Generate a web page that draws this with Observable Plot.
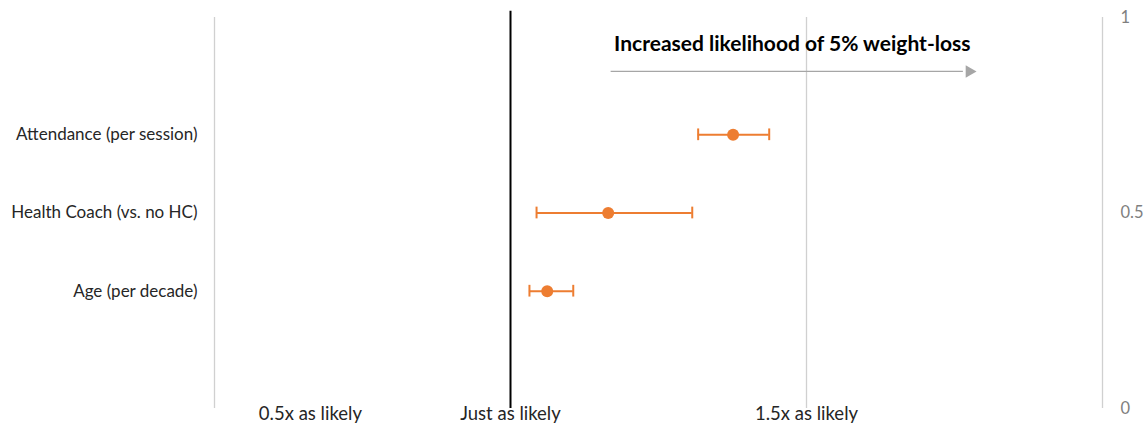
<!DOCTYPE html>
<html>
<head>
<meta charset="utf-8">
<script src="https://cdn.jsdelivr.net/npm/d3@7"></script>
<script src="https://cdn.jsdelivr.net/npm/@observablehq/plot@0.6"></script>
<style>
  html, body { margin: 0; padding: 0; background: #fff; }
  #chart svg { display: block; font-family: Lato, "Open Sans", sans-serif; }
</style>
</head>
<body>
<div id="chart"></div>
<script>
// Categories and odds ratios (with 95% CI)
const categories = ["Attendance (per session)", "Health Coach (vs. no HC)", "Age (per decade)"];
const rowPos = [0.7, 0.5, 0.3];
const estimate = [1.376, 1.165, 1.062];
const ciLow = [1.317, 1.044, 1.032];
const ciHigh = [1.437, 1.307, 1.106];

// Reference lines
const grayLines = [0.5, 1.5, 2.0];
const nullLine = [1.0];

// Bottom labels
const bottomLabels = ["0.5x as likely", "Just as likely", "1.5x as likely"];
const bottomPos = [0.662, 1.0, 1.5];

// Right axis ticks
const rightTicks = [0, 0.5, 1];

// Annotation
const arrowTitle = "Increased likelihood of 5% weight-loss";
const arrowStart = 1.17, arrowEnd = 1.775, arrowY = 0.862;
const titleX = 1.476, titleY = 0.931;

const rows = categories.map((c, i) => ({
  label: c, y: rowPos[i], est: estimate[i], lo: ciLow[i], hi: ciHigh[i]
}));

const orange = "#ed7d31";
const capHalf = 0.015;

const chart = Plot.plot({
  width: 1148,
  height: 425,
  marginLeft: 214,
  marginRight: 46,
  marginTop: 17,
  marginBottom: 17,
  style: { fontFamily: "Lato, 'Open Sans', sans-serif", background: "#fff" },
  x: { domain: [0.5, 2.0], axis: null },
  y: { domain: [0, 1], axis: null },
  marks: [
    Plot.axisY({ anchor: "right", ticks: rightTicks, tickSize: 0, tickPadding: 18, tickFormat: d => String(d), label: null, fontSize: 16.5, color: "#7f7f7f" }),
    Plot.ruleX(grayLines, { x: d => d, y1: 0, y2: 1, stroke: "#d0d0d0", strokeWidth: 1.3 }),
    Plot.ruleX(nullLine, { x: d => d, y1: 0, y2: 1.016, stroke: "#000", strokeWidth: 2, clip: false }),
    // arrow
    Plot.ruleY([arrowY], { x1: arrowStart, x2: arrowEnd - 0.01, y: d => d, stroke: "#a6a6a6", strokeWidth: 1.3 }),
    Plot.dot([arrowY], { x: arrowEnd, y: d => d, symbol: "triangle2", rotate: 90, r: 6, fill: "#a6a6a6", stroke: "none" }),
    Plot.text([arrowTitle], { x: titleX, y: titleY, text: d => d, fontWeight: "bold", fontSize: 21, fill: "#000" }),
    // error bars
    Plot.ruleY(rows, { y: "y", x1: "lo", x2: "hi", stroke: orange, strokeWidth: 2 }),
    Plot.ruleX(rows, { x: "lo", y1: d => d.y - capHalf, y2: d => d.y + capHalf, stroke: orange, strokeWidth: 2 }),
    Plot.ruleX(rows, { x: "hi", y1: d => d.y - capHalf, y2: d => d.y + capHalf, stroke: orange, strokeWidth: 2 }),
    Plot.dot(rows, { x: "est", y: "y", r: 6, fill: orange, stroke: "none" }),
    // category labels
    Plot.text(rows, { x: 0.5, y: "y", text: "label", textAnchor: "end", dx: -17, fontSize: 17, fill: "#262626" }),
    // bottom labels
    Plot.text(bottomLabels, { x: (d, i) => bottomPos[i], y: 0, text: d => d, dy: 6, fontSize: 18.5, fill: "#262626", clip: false })
  ]
});

document.getElementById("chart").appendChild(chart);
</script>
</body>
</html>
